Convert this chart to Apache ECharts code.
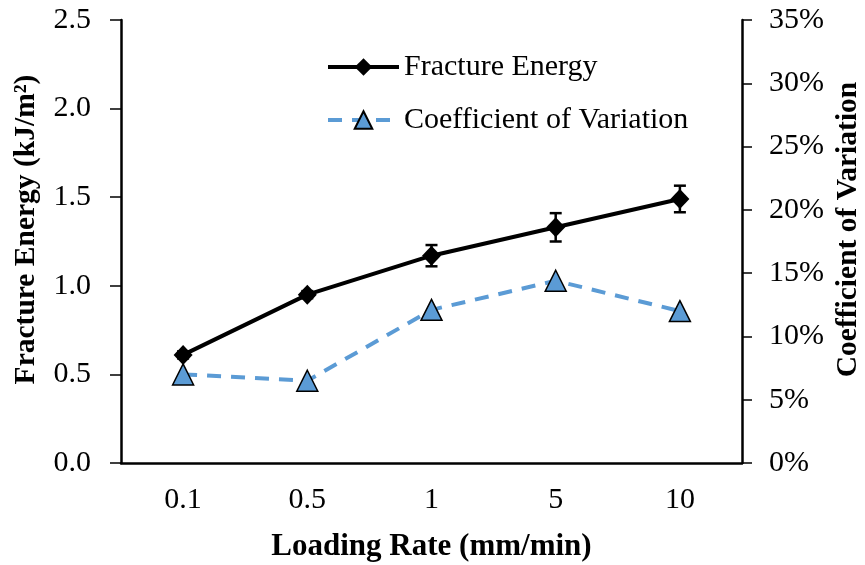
<!DOCTYPE html>
<html>
<head>
<meta charset="utf-8">
<script src="https://cdn.jsdelivr.net/npm/echarts@6/dist/echarts.min.js"></script>
<style>
html,body{margin:0;padding:0;background:#fff;}
#chart{width:865px;height:565px;}
</style>
</head>
<body>
<div id="chart"></div>
<script>
var categories = ['0.1', '0.5', '1', '5', '10'];
var fractureEnergy = [0.61, 0.95, 1.17, 1.33, 1.49];
var fractureError = [0.02, 0.02, 0.06, 0.08, 0.075];
var coefVariation = [0.070, 0.065, 0.121, 0.144, 0.120];
var leftTicks = { min: 0, max: 2.5, interval: 0.5 };
var rightTicks = { min: 0, max: 0.35, interval: 0.05 };

var FONT = '"Liberation Serif", "Times New Roman", serif';

var errData = categories.map(function (c, i) {
  return [i, fractureEnergy[i] - fractureError[i], fractureEnergy[i] + fractureError[i]];
});

var chart = echarts.init(document.getElementById('chart'), null, { renderer: 'canvas' });

chart.setOption({
  backgroundColor: '#ffffff',
  animation: false,
  grid: { left: 121, right: 123, top: 20, bottom: 102, containLabel: false, outerBoundsMode: 'none' },
  legend: {
    orient: 'vertical',
    left: 326,
    top: 52,
    padding: 0,
    itemWidth: 71,
    itemHeight: 22,
    itemGap: 23,
    data: ['Fracture Energy', 'Coefficient of Variation'],
    lineStyle: { width: 4 },
    textStyle: { fontFamily: FONT, fontSize: 30, color: '#000' }
  },
  xAxis: {
    type: 'category',
    data: categories,
    boundaryGap: true,
    name: 'Loading Rate (mm/min)',
    nameLocation: 'middle',
    nameGap: 68,
    nameMoveOverlap: false,
    nameTextStyle: { fontFamily: FONT, fontSize: 31, fontWeight: 'bold', color: '#000' },
    axisLine: { lineStyle: { color: '#000', width: 2.5 } },
    axisTick: { alignWithLabel: true, length: 9, lineStyle: { color: '#000', width: 1.5 } },
    axisLabel: { fontFamily: FONT, fontSize: 30, color: '#000', margin: 22 },
    splitLine: { show: false }
  },
  yAxis: [
    {
      type: 'value',
      min: leftTicks.min, max: leftTicks.max, interval: leftTicks.interval,
      position: 'left',
      name: 'Fracture Energy (kJ/m\u00B2)',
      nameLocation: 'middle',
      nameRotate: 90,
      nameGap: 80,
      nameMoveOverlap: false,
      nameTextStyle: { fontFamily: FONT, fontSize: 29.5, fontWeight: 'bold', color: '#000', padding: [0, 0, 0, 24] },
      axisLine: { show: true, lineStyle: { color: '#000', width: 2.5 } },
      axisTick: { show: true, length: 11, lineStyle: { color: '#000', width: 1.5 } },
      axisLabel: {
        fontFamily: FONT, fontSize: 30, color: '#000', margin: 30,
        formatter: function (v) { return v.toFixed(1); }
      },
      splitLine: { show: false }
    },
    {
      type: 'value',
      min: rightTicks.min, max: rightTicks.max, interval: rightTicks.interval,
      position: 'right',
      name: 'Coefficient of Variation',
      nameLocation: 'middle',
      nameRotate: 90,
      nameGap: 91,
      nameMoveOverlap: false,
      nameTextStyle: { fontFamily: FONT, fontSize: 29.5, fontWeight: 'bold', color: '#000', padding: [0, 0, 0, 24] },
      axisLine: { show: true, lineStyle: { color: '#000', width: 2.5 } },
      axisTick: { show: true, length: 10, lineStyle: { color: '#000', width: 1.5 } },
      axisLabel: {
        fontFamily: FONT, fontSize: 30, color: '#000', margin: 27,
        formatter: function (v) { return Math.round(v * 100) + '%'; }
      },
      splitLine: { show: false }
    }
  ],
  series: [
    {
      name: 'Coefficient of Variation',
      type: 'line',
      yAxisIndex: 1,
      data: coefVariation,
      symbol: 'triangle',
      symbolSize: [21, 21],
      lineStyle: { color: '#5B9BD5', width: 4, type: [14, 10] },
      itemStyle: { color: '#5B9BD5', borderColor: '#000', borderWidth: 1.5 },
      z: 3
    },
    {
      name: 'Fracture Energy',
      type: 'line',
      yAxisIndex: 0,
      data: fractureEnergy,
      symbol: 'diamond',
      symbolSize: [19, 20],
      lineStyle: { color: '#000', width: 4 },
      itemStyle: { color: '#000', borderColor: '#000', borderWidth: 0 },
      z: 4
    },
    {
      name: 'errorbars',
      type: 'custom',
      yAxisIndex: 0,
      data: errData,
      z: 5,
      renderItem: function (params, api) {
        var x = api.value(0);
        var lo = api.coord([x, api.value(1)]);
        var hi = api.coord([x, api.value(2)]);
        var cap = 6;
        var st = { stroke: '#000', lineWidth: 2.5 };
        return {
          type: 'group',
          children: [
            { type: 'line', shape: { x1: hi[0], y1: hi[1], x2: lo[0], y2: lo[1] }, style: st },
            { type: 'line', shape: { x1: hi[0] - cap, y1: hi[1], x2: hi[0] + cap, y2: hi[1] }, style: st },
            { type: 'line', shape: { x1: lo[0] - cap, y1: lo[1], x2: lo[0] + cap, y2: lo[1] }, style: st }
          ]
        };
      }
    }
  ]
});
</script>
</body>
</html>
